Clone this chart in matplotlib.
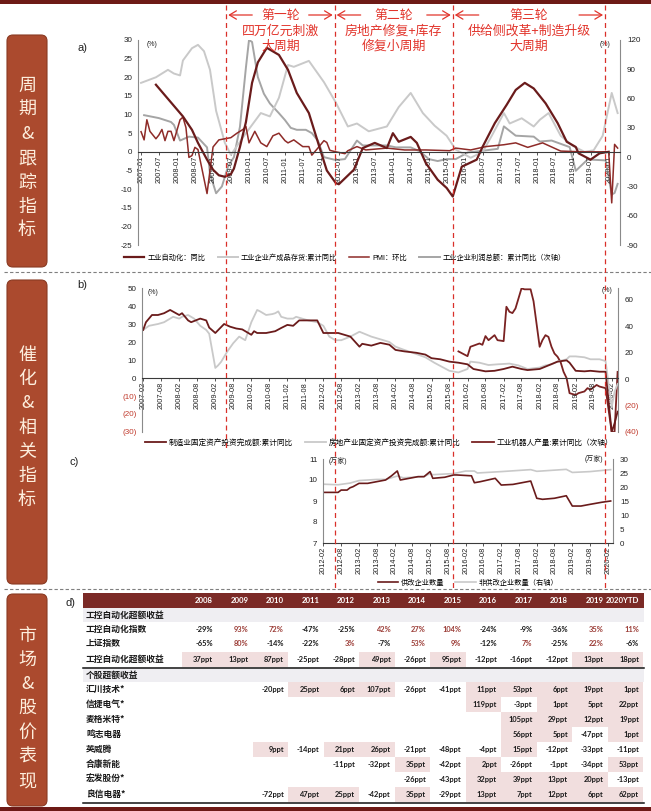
import matplotlib
matplotlib.use('Agg')
import matplotlib.pyplot as plt
import matplotlib.dates as mdates
from matplotlib.patches import FancyBboxPatch, Rectangle
import pandas as pd

plt.rcParams['font.family'] = ['Liberation Sans', 'Noto Sans CJK SC', 'DejaVu Sans']
plt.rcParams['axes.unicode_minus'] = False

# ------------------------------------------------------------------ data
# panel a (left axis %, profit on right axis %)
auto_yoy = [('2007-06', 18.0), ('2008-03', 9.5), ('2008-06', 5.9), ('2008-08', 2.4), ('2008-11', -2.1),
            ('2009-01', -4.8), ('2009-03', -6.3), ('2009-05', -6.7), ('2009-07', -6.0), ('2009-08', -4.5),
            ('2009-10', 1.3), ('2009-12', 8.0), ('2010-02', 18.5), ('2010-04', 24.0), ('2010-07', 27.9),
            ('2010-11', 26.0), ('2011-02', 22.0), ('2011-05', 15.8), ('2011-09', 10.4), ('2012-01', 0.0),
            ('2012-03', -5.0), ('2012-06', -8.4), ('2012-07', -8.7), ('2012-12', -4.8), ('2013-03', 1.0),
            ('2013-07', 2.4), ('2013-11', 1.0), ('2014-01', 5.0), ('2014-03', 2.7), ('2014-07', 4.0),
            ('2014-09', 2.4), ('2014-12', -3.0), ('2015-04', -7.5), ('2015-07', -9.7), ('2015-09', -12.0),
            ('2015-12', -4.0), ('2016-05', -2.1), ('2016-07', 1.4), ('2016-11', 7.7), ('2017-03', 12.6),
            ('2017-06', 16.6), ('2017-09', 18.5), ('2017-12', 17.0), ('2018-04', 13.0), ('2018-08', 7.7),
            ('2018-11', 2.7), ('2019-02', 1.3), ('2019-03', -0.4), ('2019-07', -2.1), ('2019-10', -0.4),
            ('2020-01', 0.0)]
inventory_yoy = [('2007-01', 18.5), ('2007-06', 20.0), ('2007-10', 22.0), ('2007-12', 21.0), ('2008-02', 20.5),
                 ('2008-03', 24.5), ('2008-06', 27.8), ('2008-08', 28.7), ('2008-10', 27.0), ('2008-12', 22.0),
                 ('2009-02', 11.0), ('2009-05', 2.4), ('2009-07', -0.8), ('2009-12', 5.0), ('2010-05', 10.4),
                 ('2010-08', 9.5), ('2010-11', 14.5), ('2011-02', 23.3), ('2011-04', 22.8), ('2011-09', 24.4),
                 ('2012-02', 18.7), ('2012-06', 13.2), ('2012-10', 6.8), ('2013-01', 7.6), ('2013-05', 5.5),
                 ('2013-11', 6.8), ('2014-03', 12.0), ('2014-07', 15.8), ('2014-11', 10.4), ('2015-03', 7.0),
                 ('2015-07', 4.3), ('2015-10', 0.6), ('2016-03', -1.6), ('2016-07', 0.0), ('2016-10', 4.3),
                 ('2017-02', 10.4), ('2017-04', 7.6), ('2017-08', 9.0), ('2017-12', 6.8), ('2018-02', 8.6),
                 ('2018-05', 10.4), ('2018-09', 4.3), ('2019-01', 1.6), ('2019-05', 0.0), ('2019-08', 0.4),
                 ('2019-11', 4.3), ('2020-02', 15.8), ('2020-04', 10.4)]
pmi_mom = [('2007-01', 5.4), ('2007-02', 3.2), ('2007-03', 8.6), ('2007-04', 5.5), ('2007-06', 3.5),
           ('2007-07', 4.5), ('2007-08', 6.0), ('2007-09', 3.0), ('2007-10', 5.5), ('2007-11', 5.5),
           ('2007-12', 3.0), ('2008-02', 8.6), ('2008-03', 9.3), ('2008-04', 6.5), ('2008-05', -1.5),
           ('2008-06', -1.0), ('2008-07', 1.2), ('2008-08', 0.6), ('2008-11', -11.2), ('2008-12', -5.0),
           ('2009-01', 1.3), ('2009-03', 3.2), ('2009-05', 3.5), ('2009-07', 3.8), ('2009-09', 5.0),
           ('2009-11', 6.0), ('2009-12', 6.8), ('2010-01', 2.4), ('2010-03', 5.5), ('2010-05', 2.4),
           ('2010-07', 1.4), ('2010-09', 4.3), ('2010-11', 5.0), ('2011-01', 3.0), ('2011-02', 2.4),
           ('2011-04', 3.2), ('2011-07', 1.4), ('2011-09', 1.4), ('2011-10', -0.9), ('2011-12', 1.0),
           ('2012-02', 3.0), ('2012-03', 2.5), ('2012-04', 0.4), ('2012-06', 0.0), ('2012-09', -0.5),
           ('2012-10', 0.3), ('2013-01', 1.4), ('2013-04', 0.5), ('2013-11', 1.0), ('2014-05', 0.5),
           ('2014-12', 0.5), ('2015-08', 0.3), ('2015-10', 1.0), ('2016-03', 0.5), ('2016-08', 1.4),
           ('2017-02', 1.9), ('2017-06', 2.4), ('2017-10', 1.2), ('2018-03', 2.4), ('2018-09', 0.2),
           ('2019-04', 0.0), ('2019-08', 0.0), ('2020-01', 0.0), ('2020-02', -13.7), ('2020-03', 2.0),
           ('2020-04', 1.0)]
profit_yoy = [('2007-02', 43), ('2007-07', 40), ('2007-11', 36), ('2007-12', 33), ('2008-02', 17),
              ('2008-05', 21), ('2008-08', 20), ('2008-11', 10), ('2008-12', -17), ('2009-02', -37),
              ('2009-04', -30), ('2009-06', -10), ('2009-08', 0), ('2009-10', 31), ('2009-12', 92),
              ('2010-01', 120), ('2010-02', 118), ('2010-04', 82), ('2010-06', 65), ('2010-08', 55),
              ('2010-11', 45), ('2011-01', 38), ('2011-03', 30), ('2011-05', 28), ('2011-08', 28),
              ('2011-10', 24.6), ('2011-12', 17), ('2012-02', 0), ('2012-06', -3), ('2012-09', -2),
              ('2013-01', 17), ('2013-03', 12), ('2013-06', 12), ('2013-11', 12), ('2014-02', 10),
              ('2014-07', 10), ('2014-10', 6), ('2015-01', -2), ('2015-04', -4), ('2015-07', -2),
              ('2015-10', -2), ('2016-02', 4.8), ('2016-06', 6.2), ('2016-12', 8.5), ('2017-02', 31.5),
              ('2017-06', 22), ('2017-12', 21), ('2018-02', 16), ('2018-06', 17), ('2018-12', 10.3),
              ('2019-02', -14), ('2019-06', -2.4), ('2019-12', -3.3), ('2020-02', -38.3), ('2020-03', -36.7),
              ('2020-04', -27.4)]

# panel b (left axis %, robots on right axis %)
mfg_fai = [('2007-02', 26.7), ('2007-03', 31), ('2007-05', 35), ('2007-07', 35), ('2007-09', 36),
           ('2007-11', 37.8), ('2008-02', 35), ('2008-03', 36), ('2008-05', 32), ('2008-06', 31),
           ('2008-09', 33), ('2008-11', 32), ('2008-12', 28), ('2009-02', 25), ('2009-05', 30),
           ('2009-07', 28.5), ('2009-09', 27.5), ('2009-11', 27), ('2010-02', 24), ('2010-03', 26),
           ('2010-04', 25), ('2010-07', 25), ('2010-10', 26), ('2010-12', 27.8), ('2011-02', 29.5),
           ('2011-04', 29), ('2011-06', 32), ('2011-10', 32), ('2011-12', 32), ('2012-02', 25),
           ('2012-05', 25), ('2012-07', 25), ('2012-11', 23), ('2013-02', 17.4), ('2013-03', 19),
           ('2013-06', 18), ('2013-09', 19.5), ('2013-12', 18.5), ('2014-02', 15.6), ('2014-05', 14.8),
           ('2014-09', 14), ('2014-12', 13), ('2015-02', 11), ('2015-05', 10.4), ('2015-08', 9.1),
           ('2015-11', 8.5), ('2016-02', 7.6), ('2016-04', 5), ('2016-08', 3.7), ('2016-11', 4),
           ('2017-02', 5), ('2017-05', 6.3), ('2017-08', 5), ('2017-10', 4.4), ('2018-02', 5),
           ('2018-05', 7), ('2018-08', 9.1), ('2018-11', 9.8), ('2018-12', 8.5), ('2019-02', 4),
           ('2019-05', 3.7), ('2019-07', 4), ('2019-10', 3.5), ('2019-12', 3.5), ('2020-02', -30),
           ('2020-03', -25.2), ('2020-04', -18.7)]
re_fai = [('2007-02', 26.7), ('2007-04', 29), ('2007-07', 30), ('2007-09', 31), ('2007-12', 34),
          ('2008-02', 33), ('2008-03', 34), ('2008-05', 35), ('2008-07', 33), ('2008-09', 29),
          ('2008-11', 26.7), ('2008-12', 24.6), ('2009-02', 5.6), ('2009-03', 7), ('2009-04', 9),
          ('2009-06', 14.6), ('2009-08', 19.3), ('2009-10', 23), ('2009-12', 21), ('2010-02', 31),
          ('2010-04', 37.8), ('2010-05', 37), ('2010-07', 35), ('2010-09', 35.5), ('2010-10', 36),
          ('2010-11', 37), ('2010-12', 34), ('2011-02', 33), ('2011-04', 33), ('2011-05', 34),
          ('2011-07', 33), ('2011-09', 32), ('2011-12', 31), ('2012-02', 29), ('2012-04', 23),
          ('2012-06', 21), ('2012-08', 21), ('2012-11', 23), ('2013-02', 25.7), ('2013-06', 23),
          ('2013-12', 20), ('2014-02', 17.4), ('2014-05', 15.6), ('2014-08', 13.9), ('2014-12', 11.5),
          ('2015-03', 8.5), ('2015-06', 5.8), ('2015-08', 4), ('2015-11', 3.1), ('2016-02', 5),
          ('2016-03', 9.1), ('2016-06', 8.5), ('2016-09', 7.2), ('2016-12', 7.6), ('2017-04', 8),
          ('2017-07', 7), ('2017-10', 5), ('2018-02', 5.8), ('2018-04', 7), ('2018-06', 7.6),
          ('2018-08', 9.1), ('2018-11', 10.4), ('2018-12', 12), ('2019-02', 12), ('2019-05', 11.5),
          ('2019-07', 10.4), ('2019-10', 10.4), ('2019-12', 9.4), ('2020-02', -16.3), ('2020-03', -7.7),
          ('2020-04', -3.3)]
robot_yoy = [('2015-11', 21), ('2016-02', 17.4), ('2016-03', 24.5), ('2016-06', 27), ('2016-07', 26),
             ('2016-08', 32.6), ('2016-09', 29.5), ('2016-11', 33.3), ('2016-12', 29.5), ('2017-02', 28.8),
             ('2017-03', 54.8), ('2017-04', 51), ('2017-05', 50), ('2017-06', 53.5), ('2017-08', 68.7),
             ('2017-09', 68), ('2017-11', 68), ('2017-12', 59), ('2018-02', 24.5), ('2018-03', 29.5),
             ('2018-04', 33.3), ('2018-05', 32), ('2018-06', 24.5), ('2018-07', 19.4), ('2018-08', 17),
             ('2018-09', 13), ('2018-10', 5.6), ('2018-11', 0.8), ('2018-12', -10.6), ('2019-02', -12),
             ('2019-03', -10.6), ('2019-05', -9.3), ('2019-06', -6.8), ('2019-07', -8), ('2019-09', -4.4),
             ('2019-10', -5.6), ('2019-12', -6.8), ('2020-02', -40), ('2020-03', -40), ('2020-04', 5.5)]

# panel c (万家)
supply_firms = [('2012-02', 9.41), ('2012-07', 9.41), ('2012-08', 9.52), ('2012-10', 9.52), ('2012-11', 9.63),
                ('2012-12', 9.68), ('2013-02', 9.84), ('2013-05', 9.84), ('2013-08', 9.92), ('2013-11', 10.0),
                ('2014-01', 10.2), ('2014-03', 10.43), ('2014-04', 10.0), ('2014-07', 10.08), ('2014-10', 10.16),
                ('2014-12', 10.16), ('2015-02', 10.4), ('2015-03', 10.08), ('2015-07', 10.13), ('2015-10', 10.24),
                ('2015-11', 10.24), ('2016-04', 10.2), ('2016-05', 9.87), ('2016-07', 9.92), ('2016-12', 10.08),
                ('2017-02', 9.76), ('2017-06', 9.79), ('2017-12', 9.95), ('2018-02', 9.13), ('2018-04', 9.08),
                ('2018-08', 9.13), ('2018-12', 9.25), ('2019-02', 8.76), ('2019-05', 8.76), ('2019-08', 8.84),
                ('2019-12', 8.94), ('2020-03', 9.0)]
nonsupply_firms = [('2012-02', 21.0), ('2012-07', 20.8), ('2012-11', 21.4), ('2013-02', 22.3), ('2013-08', 22.7),
                   ('2013-11', 22.7), ('2014-03', 23.9), ('2014-05', 23.3), ('2014-12', 23.7), ('2015-02', 24.8),
                   ('2015-03', 24.4), ('2015-10', 24.8), ('2016-02', 25.7), ('2016-05', 25.7), ('2016-06', 25.0),
                   ('2017-02', 25.5), ('2017-12', 26.2), ('2018-02', 25.6), ('2018-12', 26.3), ('2019-02', 25.2),
                   ('2019-08', 25.5), ('2020-03', 26.2)]

a_xticks = [f'{y}-{m:02d}' for y in range(2007, 2021) for m in (1, 7)][:-1]
b_xticks = [f'{y}-{m:02d}' for y in range(2007, 2021) for m in (2, 8)][:-1]
c_xticks = [f'{y}-{m:02d}' for y in range(2012, 2021) for m in (2, 8)][:-1]
a_left_ticks = list(range(-25, 31, 5))
a_right_ticks = list(range(-90, 121, 30))
b_left_ticks = list(range(-30, 51, 10))
b_right_ticks = list(range(-40, 61, 20))
c_left_ticks = [7, 8, 9, 10, 11]
c_right_ticks = list(range(0, 31, 5))

cycle_bounds = ['2009-05-15', '2012-05-20', '2015-09-01', '2019-11-25']
cycle_titles = [['第一轮', '四万亿元刺激', '大周期'],
                ['第二轮', '房地产修复+库存', '修复小周期'],
                ['第三轮', '供给侧改革+制造升级', '大周期']]
side_titles = ['周期&跟踪指标', '催化&相关指标', '市场&股价表现']

# table d
years = ['2008', '2009', '2010', '2011', '2012', '2013', '2014', '2015', '2016', '2017', '2018', '2019', '2020YTD']
idx_auto = [-29, 93, 72, -47, -25, 42, 27, 104, -24, -9, -36, 35, 11]
idx_sh = [-65, 80, -14, -22, 3, -7, 53, 9, -12, 7, -25, 22, -6]
excess_auto = [37, 13, 87, -25, -28, 49, -26, 95, -12, -16, -12, 13, 18]
stock_names = ['汇川技术*', '信捷电气*', '麦格米特*', '鸣志电器', '英威腾', '合康新能', '宏发股份*', '良信电器*']
N = None
stock_excess = [
    [N, N, -20, 25, 6, 107, -26, -41, 11, 53, 6, 19, 1],
    [N, N, N, N, N, N, N, N, 119, -3, 1, 5, 22],
    [N, N, N, N, N, N, N, N, N, 105, 29, 12, 19],
    [N, N, N, N, N, N, N, N, N, 56, 5, -47, 1],
    [N, N, 9, -14, 21, 26, -21, -48, -4, 15, -12, -33, -11],
    [N, N, N, N, -11, -32, 35, -42, 2, -26, -1, -34, 53],
    [N, N, N, N, N, N, -26, -43, 32, 39, 13, 20, -13],
    [N, N, -72, 47, 25, -42, 35, -29, 13, 7, 12, 6, 62],
]

# ------------------------------------------------------------------ figure
W, H = 651, 811
fig = plt.figure(figsize=(W / 100, H / 100), dpi=100)
fig.patch.set_facecolor('white')

RED = '#e2352c'
BROWN = '#6a1b1b'
BROWN2 = '#8e2b28'
LGRAY = '#c9c9c9'
MGRAY = '#a5a5a5'
SPINE = '#8a8a8a'


def rect(l, t, r, b):
    return [l / W, 1 - b / H, (r - l) / W, (b - t) / H]


def split(pairs):
    return pd.to_datetime([p[0] for p in pairs]), [p[1] for p in pairs]


def paren(v):
    return f'({abs(int(v))})' if v < 0 else f'{int(v)}'


# background layer in pixel coordinates
bg = fig.add_axes([0, 0, 1, 1], zorder=-5)
bg.set_xlim(0, W)
bg.set_ylim(H, 0)
bg.axis('off')

bg.add_patch(Rectangle((0, 0), W, 4, fc='#6d1a16', ec='none'))
bg.add_patch(Rectangle((0, 807), W, 4, fc='#6d1a16', ec='none'))
for ysep in (272, 589):
    bg.plot([4, W], [ysep, ysep], color='#7f7f7f', lw=0.8, ls=(0, (3, 2)))

box_spans = [(35, 267), (280, 584), (594, 806)]
side_char_y = [[86, 110, 134, 158, 183, 207, 230],
               [355, 379, 403, 428, 452, 476, 500],
               [636, 660, 684, 708, 733, 757, 781]]
for (t, b), title, ys in zip(box_spans, side_titles, side_char_y):
    bg.add_patch(FancyBboxPatch((7, t), 40, b - t, boxstyle='round,pad=0,rounding_size=6',
                                fc='#ab4a2e', ec='#8a3a22', lw=0.8))
    for ch, yc in zip(title, ys):
        bg.text(27, yc, ch, ha='center', va='center', fontsize=13, color='#fdeedd',
                family=['Noto Sans CJK SC'])

for lab, (px, py) in zip(['a)', 'b)', 'c)', 'd)'], [(77, 48), (77, 285), (70, 462), (65, 603)]):
    bg.text(px, py, lab, fontsize=8, va='center', ha='left', color='#222222')

# ------------------------------------------------------------------ panel a
axA = fig.add_axes(rect(138, 40, 620, 245))
axA2 = axA.twinx()
axA.set_zorder(axA2.get_zorder() + 1)
axA.patch.set_visible(False)

d, v = split(inventory_yoy)
l_inv, = axA.plot(d, v, color=LGRAY, lw=1.4)
d, v = split(profit_yoy)
l_prof, = axA2.plot(d, v, color=MGRAY, lw=1.4)
d, v = split(pmi_mom)
l_pmi, = axA.plot(d, v, color=BROWN2, lw=1.1)
d, v = split(auto_yoy)
l_auto, = axA.plot(d, v, color=BROWN, lw=1.6)

axA.set_xlim(pd.Timestamp('2006-12-01'), pd.Timestamp('2020-04-25'))
axA.set_ylim(-25, 30)
axA2.set_ylim(-90, 120)
axA.set_yticks(a_left_ticks)
axA2.set_yticks(a_right_ticks)
axA.set_xticks(pd.to_datetime(a_xticks))
axA.set_xticklabels(a_xticks)

# ------------------------------------------------------------------ panel b
axB = fig.add_axes(rect(142, 288, 618, 432))
axB2 = axB.twinx()
axB.set_zorder(axB2.get_zorder() + 1)
axB.patch.set_visible(False)

d, v = split(re_fai)
l_re, = axB.plot(d, v, color=LGRAY, lw=1.3)
d, v = split(mfg_fai)
l_mfg, = axB.plot(d, v, color=BROWN, lw=1.3)
d, v = split(robot_yoy)
l_rob, = axB2.plot(d, v, color='#7a2222', lw=1.3)

axB.set_xlim(pd.Timestamp('2007-01-20'), pd.Timestamp('2020-04-05'))
axB.set_ylim(-30, 50)
axB2.set_ylim(-40, 69)
axB.set_yticks(b_left_ticks, labels=[paren(t) for t in b_left_ticks])
axB2.set_yticks(b_right_ticks, labels=[paren(t) for t in b_right_ticks])
for lab, t in zip(axB.get_yticklabels(), b_left_ticks):
    lab.set_color('#c0392b' if t < 0 else '#222222')
for lab, t in zip(axB2.get_yticklabels(), b_right_ticks):
    lab.set_color('#c0392b' if t < 0 else '#222222')
axB.set_xticks(pd.to_datetime(b_xticks))
axB.set_xticklabels(b_xticks)

# ------------------------------------------------------------------ panel c
axC = fig.add_axes(rect(323, 459, 613, 543))
axC2 = axC.twinx()
axC.set_zorder(axC2.get_zorder() + 1)
axC.patch.set_visible(False)

d, v = split(nonsupply_firms)
l_non, = axC2.plot(d, v, color=LGRAY, lw=1.2)
d, v = split(supply_firms)
l_sup, = axC.plot(d, v, color=BROWN, lw=1.2)

axC.set_xlim(pd.Timestamp('2012-01-28'), pd.Timestamp('2020-03-25'))
axC.set_ylim(7, 11)
axC2.set_ylim(0, 30)
axC.set_yticks(c_left_ticks)
axC2.set_yticks(c_right_ticks)
axC.set_xticks(pd.to_datetime(c_xticks))
axC.set_xticklabels(c_xticks)

# ------------------------------------------------------------------ axis styling
for ax, ax2, zero in ((axA, axA2, True), (axB, axB2, True), (axC, axC2, False)):
    ax.spines['top'].set_visible(False)
    ax.spines['right'].set_visible(False)
    ax.spines['left'].set_color(SPINE)
    ax.spines['left'].set_linewidth(0.8)
    if zero:
        ax.spines['bottom'].set_position(('data', 0))
    ax.spines['bottom'].set_color('#3a3a3a')
    ax.spines['bottom'].set_linewidth(0.8)
    for s in ('top', 'left', 'bottom'):
        ax2.spines[s].set_visible(False)
    ax2.spines['right'].set_color(SPINE)
    ax2.spines['right'].set_linewidth(0.8)
    ax.tick_params(axis='x', labelrotation=90, labelsize=5.3, pad=1, length=2, width=0.6,
                   color='#3a3a3a', labelcolor='#222222')
    ax.tick_params(axis='y', labelsize=5.8, length=0, pad=4)
    ax2.tick_params(axis='y', labelsize=5.8, length=0, pad=5)
for ax in (axA, axA2, axC, axC2):
    ax.tick_params(axis='y', labelcolor='#222222')

# unit labels
for (px, py, s) in [(152, 44, '(%)'), (605, 44, '(%)'), (153, 292, '(%)'), (607, 290, '(%)'),
                    (338, 461, '(万家)'), (594, 459, '(万家)')]:
    bg.text(px, py, s, fontsize=5, ha='center', va='center', color='#222222')

# legends
leg_kw = dict(frameon=False, handletextpad=0.4, borderpad=0, borderaxespad=0)
fig.legend([l_auto, l_inv, l_pmi, l_prof],
           ['工业自动化：同比', '工业企业产成品存货:累计同比', 'PMI：环比', '工业企业利润总额：累计同比（次轴）'],
           loc='center', bbox_to_anchor=(345 / W, 1 - 258 / H), ncol=4, fontsize=5.2,
           handlelength=2.8, columnspacing=1.7, **leg_kw)
fig.legend([l_mfg, l_re, l_rob],
           ['制造业固定资产投资完成额:累计同比', '房地产业固定资产投资完成额:累计同比', '工业机器人产量:累计同比（次轴）'],
           loc='center', bbox_to_anchor=(379 / W, 1 - 443 / H), ncol=3, fontsize=5.5,
           handlelength=2.8, columnspacing=1.5, **leg_kw)
fig.legend([l_sup, l_non], ['供改企业数量', '非供改企业数量（右轴）'],
           loc='center', bbox_to_anchor=(468 / W, 1 - 583 / H), ncol=2, fontsize=5.2,
           handlelength=2.8, columnspacing=1.5, **leg_kw)

# ------------------------------------------------------------------ table d
TL, TR = 83, 644
col0, cw = 181.5, 35.5
HDR_T, HDR_B = 593, 608
PINK = '#f1dede'
SEC = '#efeef2'
NUMF = 'Lato'


def col_r(i):
    return col0 + (i + 1) * cw


bg.add_patch(Rectangle((TL, HDR_T), TR - TL, HDR_B - HDR_T, fc='#7b2a26', ec='none'))
for i, y in enumerate(years):
    bg.text(col_r(i) - 4, (HDR_T + HDR_B) / 2, y, ha='right', va='center', color='white',
            fontsize=5.6, fontweight='bold', family=NUMF)


def label(txt, yc):
    bg.text(TL + 3, yc, txt, ha='left', va='center', fontsize=6.3, fontweight='bold',
            color='#1a1a1a', family=['Noto Sans CJK SC'])


def section(txt, t, b):
    bg.add_patch(Rectangle((TL, t), TR - TL, b - t, fc=SEC, ec='none'))
    label(txt, (t + b) / 2)


def value_row(vals, t, b, unit, colored=False, shade=False):
    yc = (t + b) / 2
    for i, val in enumerate(vals):
        if val is None:
            continue
        if shade and val > 0:
            bg.add_patch(Rectangle((col0 + i * cw, t), cw, b - t, fc=PINK, ec='none'))
        col = ('#9c3d37' if val > 0 else '#1a1a1a') if colored else '#1a1a1a'
        bg.text(col_r(i) - 4, yc, f'{val}{unit}', ha='right', va='center', fontsize=5.4,
                fontweight='bold', color=col, family=NUMF)


section('工控自动化超额收益', 608, 622)
label('工控自动化指数', 629)
value_row(idx_auto, 622, 636, '%', colored=True)
label('上证指数', 643.5)
value_row(idx_sh, 636, 651, '%', colored=True)
label('工控自动化超额收益', 659)
value_row(excess_auto, 651.5, 667, 'ppt', shade=True)
bg.plot([TL, TR], [667.6, 667.6], color='#111111', lw=1.1)
section('个股超额收益', 668.5, 682)
for k, (name, vals) in enumerate(zip(stock_names, stock_excess)):
    t = 682 + 15 * k
    label(name, t + 7.5)
    value_row(vals, t, t + 15, 'ppt', shade=True)
bg.plot([TL, TR], [803, 803], color='#111111', lw=1.1)

# ------------------------------------------------------------------ overlay: cycle markers
ov = fig.add_axes([0, 0, 1, 1], zorder=10)
ov.set_xlim(0, W)
ov.set_ylim(H, 0)
ov.axis('off')
ov.patch.set_visible(False)

xb = [axA.transData.transform((mdates.date2num(pd.Timestamp(dd)), 0))[0] * W / fig.bbox.width
      for dd in cycle_bounds]
for k, x in enumerate(xb):
    ov.plot([x, x], [5, 450 if k == 0 else 590], color='#d9302a', lw=0.9, ls=(0, (4, 3)))

arrow_kw = dict(arrowstyle='->,head_length=0.5,head_width=0.3', color=RED, lw=0.9,
                shrinkA=0, shrinkB=0)
for k, lines in enumerate(cycle_titles):
    x0, x1 = xb[k], xb[k + 1]
    cx = (x0 + x1) / 2
    for line, yy in zip(lines, (15, 31, 46)):
        ov.text(cx, yy, line, ha='center', va='center', fontsize=9.3, color=RED,
                family=['Noto Sans CJK SC'])
    ov.annotate('', xy=(x0 + 2, 15), xytext=(x0 + 26, 15), arrowprops=arrow_kw)
    ov.annotate('', xy=(x1 - 2, 15), xytext=(x1 - 26, 15), arrowprops=arrow_kw)

fig.savefig('out.png', dpi=100)
